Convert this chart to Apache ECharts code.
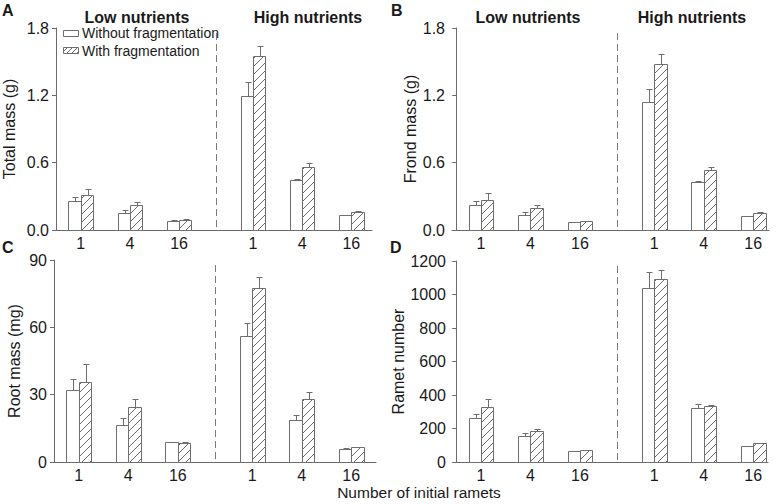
<!DOCTYPE html>
<html><head><meta charset="utf-8">
<script src="https://cdn.jsdelivr.net/npm/echarts@6/dist/echarts.min.js"></script>
<style>html,body{margin:0;padding:0;background:#fff}#c{width:778px;height:504px}</style>
</head><body><div id="c"></div>
<script>
// ---- data ----
const groupTitles = ['Low nutrients', 'High nutrients'];
const seriesNames = ['Without fragmentation', 'With fragmentation'];
const xTickLabels = ['1', '4', '16', '1', '4', '16'];
const xPositions = [0.5, 1.5, 2.5, 4, 5, 6];
const dividerX = 3.25;
const xAxisTitle = 'Number of initial ramets';
const panelLetters = ['A', 'B', 'C', 'D'];
const yAxisNames = ['Total mass (g)', 'Frond mass (g)', 'Root mass (mg)', 'Ramet number'];
const yMax = [1.8, 1.8, 90, 1200];
const yInterval = [0.6, 0.6, 30, 200];

// order: Low 1, 4, 16, High 1, 4, 16
const totalWithout    = [0.256, 0.152, 0.080, 1.197, 0.446, 0.134];
const totalWithoutErr = [0.038, 0.023, 0.006, 0.119, 0.009, 0.004];
const totalWith       = [0.309, 0.220, 0.089, 1.553, 0.564, 0.160];
const totalWithErr    = [0.059, 0.027, 0.006, 0.087, 0.030, 0.008];

const frondWithout    = [0.223, 0.137, 0.071, 1.143, 0.425, 0.125];
const frondWithoutErr = [0.035, 0.021, 0.004, 0.114, 0.015, 0.004];
const frondWith       = [0.270, 0.193, 0.077, 1.480, 0.532, 0.154];
const frondWithErr    = [0.057, 0.027, 0.006, 0.086, 0.029, 0.006];

const rootWithout     = [31.9, 16.7, 8.8, 56.3, 18.6, 5.8];
const rootWithoutErr  = [5.2, 2.7, 0.3, 5.8, 2.5, 0.3];
const rootWith        = [35.6, 24.4, 8.3, 77.7, 28.1, 6.6];
const rootWithErr     = [7.9, 3.7, 0.7, 4.9, 2.9, 0.3];

const rametWithout    = [261, 155, 65, 1037, 325, 93];
const rametWithoutErr = [26, 18, 2, 100, 19, 3];
const rametWith       = [330, 185, 71, 1092, 333, 113];
const rametWithErr    = [44, 12, 2, 54, 9, 3];

const panelData = [
  [totalWithout, totalWithoutErr, totalWith, totalWithErr],
  [frondWithout, frondWithoutErr, frondWith, frondWithErr],
  [rootWithout, rootWithoutErr, rootWith, rootWithErr],
  [rametWithout, rametWithoutErr, rametWith, rametWithErr]
];

// ---- layout / style ----
const FONT = '"Liberation Sans", Arial, sans-serif';
const TXT = '#1a1a1a';
const AXC = '#6a6a6a';
const BAR_STROKE = '#6e6e6e';
const HATCH = '#5a5a5a';
const BAR_HALF = 0.25;

const grids = [
  { left: 54, top: 28, width: 318, height: 202 },
  { left: 452, top: 28, width: 317, height: 202 },
  { left: 54, top: 260, width: 322, height: 202 },
  { left: 453, top: 261, width: 315, height: 201 }
];
const xRange = [[0, 6.42], [-0.086, 6.32], [0, 6.5], [-0.066, 6.30]];
const nameGaps = [39, 32, 32, 38];

function hatchLines(x0, y0, w, h, step) {
  const out = [];
  const cStart = Math.ceil((x0 + y0) / step) * step;
  for (let c = cStart; c <= x0 + w + y0 + h; c += step) {
    const xa = Math.max(x0, c - y0 - h);
    const xb = Math.min(x0 + w, c - y0);
    if (xb - xa > 0.3) {
      out.push({ type: 'line', shape: { x1: xa, y1: c - xa, x2: xb, y2: c - xb },
        style: { stroke: HATCH, lineWidth: 0.9 }, silent: true });
    }
  }
  return out;
}

function makeBarRender(side, hatched) {
  return function (params, api) {
    const x = api.value(0), m = api.value(1), e = api.value(2);
    const base = api.coord([x, 0]);
    const top = api.coord([x + side * BAR_HALF, m]);
    const errTop = api.coord([x, m + e]);
    let x0 = Math.round(Math.min(base[0], top[0])) + 0.5;
    let x1 = Math.round(Math.max(base[0], top[0])) + 0.5;
    const y0 = Math.round(top[1]) + 0.5;
    const y1 = Math.round(base[1]) + 0.5;
    const cx = Math.round((x0 + x1) / 2) + 0.5;
    const ye = Math.round(errTop[1]) + 0.5;
    const children = [];
    children.push({ type: 'rect', shape: { x: x0, y: y0, width: x1 - x0, height: y1 - y0 },
      style: { fill: '#fff', stroke: null } });
    if (hatched) children.push(...hatchLines(x0, y0, x1 - x0, y1 - y0, 8));
    children.push({ type: 'rect', shape: { x: x0, y: y0, width: x1 - x0, height: y1 - y0 },
      style: { fill: 'none', stroke: BAR_STROKE, lineWidth: 1 } });
    if (y0 - ye > 0.5) {
      children.push({ type: 'line', shape: { x1: cx, y1: y0, x2: cx, y2: ye }, style: { stroke: BAR_STROKE, lineWidth: 1 } });
    }
    children.push({ type: 'line', shape: { x1: cx - 3, y1: ye, x2: cx + 3, y2: ye }, style: { stroke: BAR_STROKE, lineWidth: 1 } });
    return { type: 'group', children };
  };
}

function dividerRender(params, api) {
  const p = api.coord([api.value(0), api.value(1)]);
  const b = api.coord([api.value(0), 0]);
  const x = Math.round(p[0]) + 0.5;
  return { type: 'line', shape: { x1: x, y1: p[1], x2: x, y2: b[1] },
    style: { stroke: '#7a7a7a', lineWidth: 1, lineDash: [7, 4] } };
}

const xAxes = [], yAxes = [], series = [];
for (let i = 0; i < 4; i++) {
  xAxes.push({
    type: 'value', gridIndex: i, min: xRange[i][0], max: xRange[i][1],
    axisLine: { show: true, onZero: false, lineStyle: { color: AXC, width: 1 } },
    axisTick: { show: false }, splitLine: { show: false },
    axisLabel: {
      customValues: xPositions, margin: 5, color: TXT, fontSize: 16, fontFamily: FONT,
      formatter: function (v) {
        const k = xPositions.findIndex(p => Math.abs(p - v) < 1e-6);
        return k >= 0 ? xTickLabels[k] : '';
      }
    }
  });
  yAxes.push({
    type: 'value', gridIndex: i, min: 0, max: yMax[i], interval: yInterval[i],
    axisLine: { show: true, lineStyle: { color: AXC, width: 1 } },
    axisTick: { show: true, length: 4, lineStyle: { color: AXC } },
    splitLine: { show: false },
    axisLabel: {
      color: TXT, fontSize: 16, fontFamily: FONT, margin: 7,
      formatter: (i < 2) ? (v => v.toFixed(1)) : (v => String(v))
    },
    name: yAxisNames[i], nameLocation: 'middle', nameGap: nameGaps[i],
    nameTextStyle: { color: TXT, fontSize: 16, fontFamily: FONT }
  });
  const d = panelData[i];
  series.push({
    type: 'custom', name: seriesNames[0], xAxisIndex: i, yAxisIndex: i,
    renderItem: makeBarRender(-1, false),
    data: xPositions.map((x, k) => [x, d[0][k], d[1][k]])
  });
  series.push({
    type: 'custom', name: seriesNames[1], xAxisIndex: i, yAxisIndex: i,
    renderItem: makeBarRender(1, true),
    data: xPositions.map((x, k) => [x, d[2][k], d[3][k]])
  });
  series.push({
    type: 'custom', name: 'divider', xAxisIndex: i, yAxisIndex: i, silent: true,
    renderItem: dividerRender,
    data: [[dividerX, yMax[i] * 0.975]]
  });
}

function txt(text, x, y, size, bold, align) {
  return { type: 'text', x: x, y: y, silent: true,
    style: { text: text, fill: TXT, font: (bold ? 'bold ' : '') + size + 'px ' + FONT,
      textAlign: align || 'center', textVerticalAlign: 'middle' } };
}

const graphics = [
  txt(panelLetters[0], 2, 10, 16, true, 'left'),
  txt(panelLetters[1], 391, 10, 16, true, 'left'),
  txt(panelLetters[2], 2, 247, 16, true, 'left'),
  txt(panelLetters[3], 390, 247, 16, true, 'left'),
  txt(groupTitles[0], 137, 17, 16, true),
  txt(groupTitles[1], 308, 17, 16, true),
  txt(groupTitles[0], 528, 17, 16, true),
  txt(groupTitles[1], 692, 17, 16, true),
  txt(xAxisTitle, 419, 492, 15.5, false),
  // legend
  { type: 'rect', shape: { x: 63.5, y: 30.5, width: 15, height: 6 }, style: { fill: '#fff', stroke: BAR_STROKE, lineWidth: 1 } },
  txt(seriesNames[0], 82, 33, 14, false, 'left'),
  { type: 'group', children: [
      { type: 'rect', shape: { x: 63.5, y: 47.5, width: 15, height: 6 }, style: { fill: '#fff' } },
      ...hatchLines(63.5, 47.5, 15, 6, 5),
      { type: 'rect', shape: { x: 63.5, y: 47.5, width: 15, height: 6 }, style: { fill: 'none', stroke: BAR_STROKE, lineWidth: 1 } }
  ] },
  txt(seriesNames[1], 82, 51, 14, false, 'left')
];

const chart = echarts.init(document.getElementById('c'), null, { renderer: 'svg', width: 778, height: 504 });
chart.setOption({
  backgroundColor: '#fff',
  animation: false,
  grid: grids,
  xAxis: xAxes,
  yAxis: yAxes,
  series: series,
  graphic: graphics
});
</script>
</body></html>
